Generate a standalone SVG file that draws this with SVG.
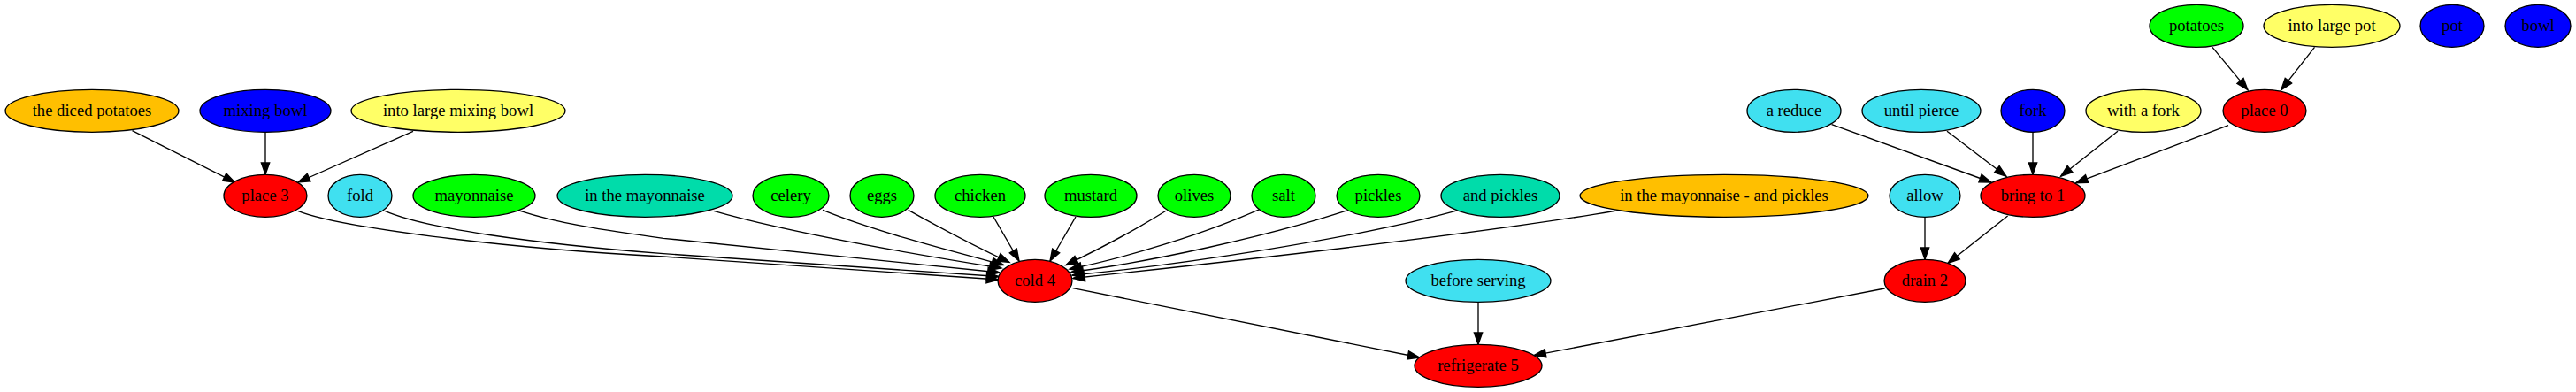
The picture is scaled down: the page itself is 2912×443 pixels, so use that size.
<svg xmlns="http://www.w3.org/2000/svg" width="2912" height="443" viewBox="0 0 2912 443">
<style>
.n ellipse{stroke:#000;stroke-width:1.333}
.n text{font-family:"Liberation Serif","Times New Roman",serif;font-size:18.67px;text-anchor:middle;fill:#000}
.red{fill:#ff0000}.green{fill:#00ff00}.blue{fill:#0000ff}.yellow{fill:#ffff66}.cyan{fill:#40e0f0}.teal{fill:#00dcaa}.orange{fill:#ffbf00}
#edges path{fill:none;stroke:#000;stroke-width:1.333;marker-end:url(#arr)}
</style>
<defs>
<marker id="arr" markerUnits="userSpaceOnUse" markerWidth="16" markerHeight="12" refX="13.33" refY="4.67" orient="auto" overflow="visible">
<path d="M0,0 L13.33,4.67 L0,9.33 Z" fill="#000" stroke="#000" stroke-width="1.333"/>
</marker>
</defs>
<rect x="0" y="0" width="2912" height="443" fill="#fff"/>
<g id="edges">
<path d="M149.5,147.7 L265.6,206"/>
<path d="M300,149.3 L300,197.3"/>
<path d="M467,148.3 L337,206"/>
<path d="M2501,53.3 L2541,101.7"/>
<path d="M2616.5,53.3 L2578.7,101.7"/>
<path d="M2070.6,140.7 L2251,206"/>
<path d="M2201,148.3 L2268,199.3"/>
<path d="M2298,149.3 L2298,197.3"/>
<path d="M2394,148.3 L2329.6,199.3"/>
<path d="M2519,141.7 L2346.7,206.7"/>
<path d="M336.7,238.3 C380,256 560,280 750,290 L1128.5,316"/>
<path d="M435,238.3 C480,258 600,275 750,286.7 L1128.7,312.5"/>
<path d="M588,238.3 C630,252 680,260 750,269.3 L1130,308"/>
<path d="M806.7,238.3 C900,265 1050,290 1132,303"/>
<path d="M930,237.3 C990,262 1080,285 1134.5,299.5"/>
<path d="M1026.7,237.3 C1060,256 1110,282 1141,296.5"/>
<path d="M1123,245 L1152,295"/>
<path d="M1216,245 L1187,295"/>
<path d="M1318,238.3 C1280,262 1235,285 1205,299.5"/>
<path d="M1423.8,236.7 C1360,265 1270,292 1209,304"/>
<path d="M1521,238.3 C1430,268 1300,296 1211,307.5"/>
<path d="M1645.6,238.3 C1530,270 1330,300 1212,311"/>
<path d="M1826,238.3 C1650,268 1350,300 1213,314.5"/>
<path d="M2176,245.3 L2176,293.3"/>
<path d="M2269.6,244 L2202,297.5"/>
<path d="M1212.7,325.7 L1604.7,404"/>
<path d="M1671,341.3 L1671,389.3"/>
<path d="M2130.6,326 L1734,401.7"/>
</g>
<g id="n_potatoes" class="n"><ellipse class="green" cx="2483" cy="29.3" rx="53" ry="24"/><text x="2483" y="34.9">potatoes</text></g>
<g id="n_into_large_pot" class="n"><ellipse class="yellow" cx="2636" cy="29.3" rx="77" ry="24"/><text x="2636" y="34.9">into large pot</text></g>
<g id="n_pot" class="n"><ellipse class="blue" cx="2772" cy="29.3" rx="36" ry="24"/><text x="2772" y="34.9">pot</text></g>
<g id="n_bowl" class="n"><ellipse class="blue" cx="2869" cy="29.3" rx="37" ry="24"/><text x="2869" y="34.9">bowl</text></g>
<g id="n_the_diced_potatoes" class="n"><ellipse class="orange" cx="104" cy="125.3" rx="98" ry="24"/><text x="104" y="130.9">the diced potatoes</text></g>
<g id="n_mixing_bowl" class="n"><ellipse class="blue" cx="300" cy="125.3" rx="74" ry="24"/><text x="300" y="130.9">mixing bowl</text></g>
<g id="n_into_large_mixing_bowl" class="n"><ellipse class="yellow" cx="518" cy="125.3" rx="121" ry="24"/><text x="518" y="130.9">into large mixing bowl</text></g>
<g id="n_a_reduce" class="n"><ellipse class="cyan" cx="2028" cy="125.3" rx="53" ry="24"/><text x="2028" y="130.9">a reduce</text></g>
<g id="n_until_pierce" class="n"><ellipse class="cyan" cx="2172" cy="125.3" rx="67" ry="24"/><text x="2172" y="130.9">until pierce</text></g>
<g id="n_fork" class="n"><ellipse class="blue" cx="2298" cy="125.3" rx="36" ry="24"/><text x="2298" y="130.9">fork</text></g>
<g id="n_with_a_fork" class="n"><ellipse class="yellow" cx="2423" cy="125.3" rx="65" ry="24"/><text x="2423" y="130.9">with a fork</text></g>
<g id="n_place_0" class="n"><ellipse class="red" cx="2560" cy="125.3" rx="47" ry="24"/><text x="2560" y="130.9">place 0</text></g>
<g id="n_place_3" class="n"><ellipse class="red" cx="300" cy="221.3" rx="47" ry="24"/><text x="300" y="226.9">place 3</text></g>
<g id="n_fold" class="n"><ellipse class="cyan" cx="407" cy="221.3" rx="36" ry="24"/><text x="407" y="226.9">fold</text></g>
<g id="n_mayonnaise" class="n"><ellipse class="green" cx="536" cy="221.3" rx="69" ry="24"/><text x="536" y="226.9">mayonnaise</text></g>
<g id="n_in_the_mayonnaise" class="n"><ellipse class="teal" cx="729" cy="221.3" rx="99" ry="24"/><text x="729" y="226.9">in the mayonnaise</text></g>
<g id="n_celery" class="n"><ellipse class="green" cx="894" cy="221.3" rx="43" ry="24"/><text x="894" y="226.9">celery</text></g>
<g id="n_eggs" class="n"><ellipse class="green" cx="997" cy="221.3" rx="36" ry="24"/><text x="997" y="226.9">eggs</text></g>
<g id="n_chicken" class="n"><ellipse class="green" cx="1108" cy="221.3" rx="51" ry="24"/><text x="1108" y="226.9">chicken</text></g>
<g id="n_mustard" class="n"><ellipse class="green" cx="1233" cy="221.3" rx="52" ry="24"/><text x="1233" y="226.9">mustard</text></g>
<g id="n_olives" class="n"><ellipse class="green" cx="1350" cy="221.3" rx="41" ry="24"/><text x="1350" y="226.9">olives</text></g>
<g id="n_salt" class="n"><ellipse class="green" cx="1451" cy="221.3" rx="36" ry="24"/><text x="1451" y="226.9">salt</text></g>
<g id="n_pickles" class="n"><ellipse class="green" cx="1558" cy="221.3" rx="47" ry="24"/><text x="1558" y="226.9">pickles</text></g>
<g id="n_and_pickles" class="n"><ellipse class="teal" cx="1696" cy="221.3" rx="67" ry="24"/><text x="1696" y="226.9">and pickles</text></g>
<g id="n_in_the_mayonnaise_and_pickles" class="n"><ellipse class="orange" cx="1949" cy="221.3" rx="163" ry="24"/><text x="1949" y="226.9">in the mayonnaise - and pickles</text></g>
<g id="n_allow" class="n"><ellipse class="cyan" cx="2176" cy="221.3" rx="40" ry="24"/><text x="2176" y="226.9">allow</text></g>
<g id="n_bring_to_1" class="n"><ellipse class="red" cx="2298" cy="221.3" rx="59" ry="24"/><text x="2298" y="226.9">bring to 1</text></g>
<g id="n_cold_4" class="n"><ellipse class="red" cx="1170" cy="317.3" rx="42" ry="24"/><text x="1170" y="322.9">cold 4</text></g>
<g id="n_before_serving" class="n"><ellipse class="cyan" cx="1671" cy="317.3" rx="82" ry="24"/><text x="1671" y="322.9">before serving</text></g>
<g id="n_drain_2" class="n"><ellipse class="red" cx="2176" cy="317.3" rx="46" ry="24"/><text x="2176" y="322.9">drain 2</text></g>
<g id="n_refrigerate_5" class="n"><ellipse class="red" cx="1671" cy="413.3" rx="72" ry="24"/><text x="1671" y="418.9">refrigerate 5</text></g>
</svg>
